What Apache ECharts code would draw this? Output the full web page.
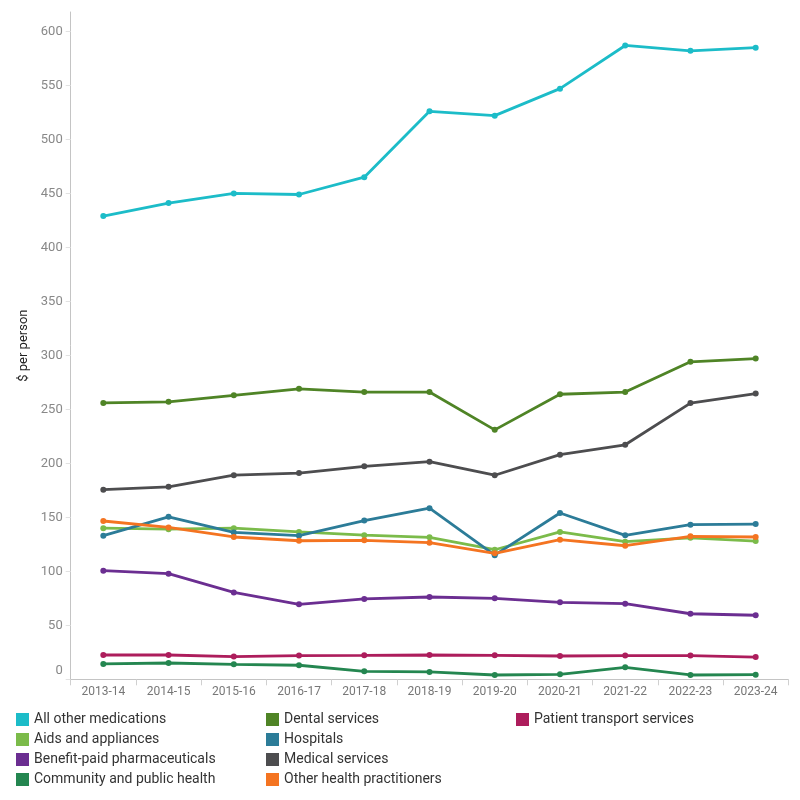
<!DOCTYPE html>
<html>
<head>
<meta charset="utf-8">
<script src="https://cdn.jsdelivr.net/npm/echarts@6/dist/echarts.min.js"></script>
<style>html,body{margin:0;padding:0;background:#fff}#c{width:800px;height:800px}</style>
</head>
<body>
<div id="c"></div>
<script>
const categories = ['2013-14','2014-15','2015-16','2016-17','2017-18','2018-19','2019-20','2020-21','2021-22','2022-23','2023-24'];
const yTicks = [0,50,100,150,200,250,300,350,400,450,500,550,600];

const allOtherMedications = [429, 441, 450, 449, 465, 526, 522, 547, 587, 582, 585];
const dentalServices = [256, 257, 263, 269, 266, 266, 231, 264, 266, 294, 297];
const patientTransport = [22.5, 22.5, 21, 22, 22.2, 22.5, 22.2, 21.6, 22, 22, 20.6];
const aidsAndAppliances = [140, 139, 140, 136.5, 133.5, 131.5, 120, 136.5, 127.5, 131, 128];
const hospitals = [133, 150.5, 136, 133, 147, 158.5, 115, 154, 133.3, 143.2, 143.8];
const benefitPaid = [100.6, 97.8, 80.5, 69.4, 74.4, 76.2, 75, 71.3, 70, 60.7, 59.3];
const medicalServices = [175.6, 178.3, 189, 191, 197.2, 201.5, 189, 208, 217.2, 255.8, 264.6];
const communityPublicHealth = [14.2, 15.1, 13.9, 13, 7.4, 6.8, 4, 4.6, 11.1, 4, 4.3];
const otherHealthPractitioners = [146.6, 140.7, 131.8, 128.3, 128.7, 126.5, 116.7, 129.3, 123.7, 132.4, 131.8];

const seriesDefs = [
  {name: 'All other medications', data: allOtherMedications, color: '#1CBCC8'},
  {name: 'Aids and appliances', data: aidsAndAppliances, color: '#7BBB4A'},
  {name: 'Benefit-paid pharmaceuticals', data: benefitPaid, color: '#6B2E91'},
  {name: 'Community and public health', data: communityPublicHealth, color: '#248650'},
  {name: 'Dental services', data: dentalServices, color: '#4F8426'},
  {name: 'Hospitals', data: hospitals, color: '#2C7C98'},
  {name: 'Medical services', data: medicalServices, color: '#4D4D4F'},
  {name: 'Other health practitioners', data: otherHealthPractitioners, color: '#F47421'},
  {name: 'Patient transport services', data: patientTransport, color: '#AD1D5C'}
];

const FONT = 'Roboto, "Noto Sans", sans-serif';
const chart = echarts.init(document.getElementById('c'), null, {renderer: 'canvas'});

const legendBase = {
  orient: 'vertical',
  top: 712.5,
  padding: 0,
  itemWidth: 13,
  itemHeight: 13,
  itemGap: 6,
  icon: 'rect',
  selectedMode: false,
  textStyle: {fontFamily: FONT, fontSize: 14, color: '#333'}
};

chart.setOption({
  animation: false,
  textStyle: {fontFamily: FONT},
  grid: {left: 70.7, right: 11.7, top: 12, bottom: 120.7, containLabel: false},
  legend: [
    Object.assign({}, legendBase, {left: 16, data: seriesDefs.slice(0,4).map(s=>s.name)}),
    Object.assign({}, legendBase, {left: 266, data: seriesDefs.slice(4,8).map(s=>s.name)}),
    Object.assign({}, legendBase, {left: 516, data: seriesDefs.slice(8).map(s=>s.name)})
  ],
  xAxis: {
    type: 'category',
    data: categories,
    boundaryGap: true,
    axisLine: {lineStyle: {color: '#c4c4c4', width: 1}},
    axisTick: {show: true, alignWithLabel: false, length: 6, lineStyle: {color: '#d0d0d0'}},
    axisLabel: {color: '#777', fontSize: 12, margin: 7, fontFamily: FONT},
    splitLine: {show: false}
  },
  yAxis: {
    type: 'value',
    min: 0,
    max: 618,
    interval: 50,
    name: '$ per person',
    nameLocation: 'middle',
    nameGap: 35,
    nameTextStyle: {color: '#222', fontSize: 13, fontFamily: FONT},
    axisLine: {show: true, lineStyle: {color: '#c4c4c4', width: 1}},
    axisTick: {show: true, length: 5, lineStyle: {color: '#e2e2e2'}, customValues: yTicks},
    axisLabel: {
      color: '#888', fontSize: 13, margin: 8, fontFamily: FONT,
      customValues: yTicks,
      formatter: function (v) { return v === 0 ? '{z|0}' : String(v); },
      rich: {z: {color: '#888', fontSize: 13, fontFamily: FONT, padding: [0, 0, 18, 0]}}
    },
    splitLine: {show: false}
  },
  series: seriesDefs.map(s => ({
    name: s.name,
    type: 'line',
    data: s.data,
    symbol: 'circle',
    symbolSize: 6,
    showSymbol: true,
    lineStyle: {width: 2.8, color: s.color},
    itemStyle: {color: s.color},
    emphasis: {disabled: true}
  }))
});
</script>
</body>
</html>
